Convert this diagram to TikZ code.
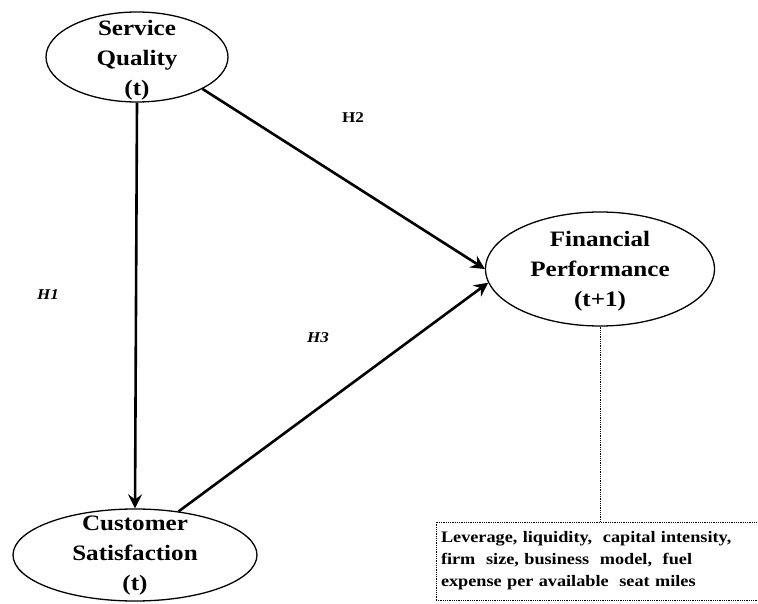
\documentclass[tikz,border=0pt]{standalone}
\usepackage{fontspec}
\setmainfont[FakeStretch=1.14]{Liberation Serif}
\usetikzlibrary{shapes.geometric,arrows.meta}
\tikzset{
  construct/.style={draw,ellipse,line width=1.3pt,inner sep=0pt},
  ctext/.style={align=center,font=\fontsize{22}{30}\selectfont\bfseries},
  hpath/.style={line width=2.6pt,-{Stealth[length=14pt,width=14pt,inset=5pt]}},
  hyp/.style={font=\fontsize{15}{17}\selectfont\bfseries\itshape},
  ctrlbox/.style={draw,densely dotted,line width=0.8pt,align=left,text width=312pt,
    minimum width=322pt,minimum height=78pt,inner sep=0pt,
    font=\fontsize{16}{22}\selectfont\bfseries}
}
\begin{document}
\begin{tikzpicture}[x=1pt,y=-1pt]
                  \useasboundingbox (0,0) rectangle (758,604);
                  \node[construct,minimum width=182pt,minimum height=90pt] (sq) at (137,57) {};
                  \node[ctext] at (137,60) {Service\\Quality\\(t)};
                  \node[construct,minimum width=244pt,minimum height=92pt] (cs) at (135,555) {};
                  \node[ctext] at (135,556) {Customer\\Satisfaction\\(t)};
                  \node[construct,minimum width=229pt,minimum height=114pt] (fp) at (600,269) {};
                  \node[ctext] at (600,271) {Financial\\Performance\\(t+1)};
                  \node[ctrlbox] (ctrl) at (597,561) {Leverage, liquidity, \ capital intensity,\\firm \ size, business \ model, \ fuel\\expense per available \ seat miles};
                  \draw[hpath] (sq.south) -- (cs.north);
                  \draw[hpath] (sq.-26) -- (fp.180);
                  \draw[hpath] (cs.45) -- (fp.187);
                  \draw[densely dotted,line width=0.8pt] (fp.south) -- (fp.south |- ctrl.north);
                  \node[hyp] (h1) at (48,295) {H1};
                  \node[hyp,font=\fontsize{15}{17}\selectfont\bfseries] (h2) at (353,118) {H2};
                  \node[hyp] (h3) at (318,338) {H3};
            \end{tikzpicture}
\end{document}
